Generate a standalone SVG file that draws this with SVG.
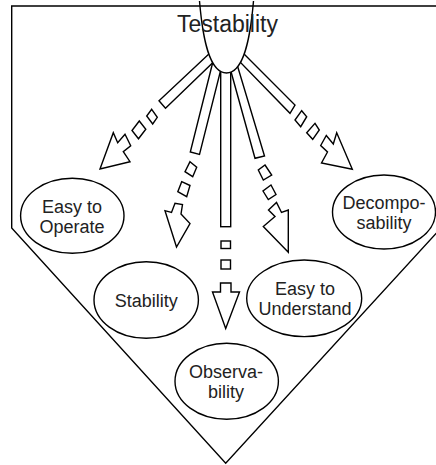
<svg xmlns="http://www.w3.org/2000/svg" width="436" height="465" viewBox="0 0 436 465">
<style>
.s{fill:#fff;stroke:#000;stroke-width:1.4;stroke-linejoin:miter}
.o{fill:none;stroke:#000;stroke-width:1.4}
.t{font-family:"Liberation Sans",Arial,sans-serif;font-size:18px;fill:#222;text-anchor:middle}
.h{font-family:"Liberation Sans",Arial,sans-serif;font-size:23px;fill:#222;text-anchor:middle}
</style>
<rect width="436" height="465" fill="#fff"/>
<g id="connectors">
  <polygon class="s" points="217.4,46 159,100.8 165.5,108.3 220.7,55"/>
  <polygon class="s" points="214.6,55 190.3,152 199.5,154.5 224.5,55"/>
  <rect class="s" x="220.7" y="55" width="10" height="171.7"/>
  <polygon class="s" points="226.4,55 255,158.3 264.5,156 234.2,55"/>
  <polygon class="s" points="233.3,43.3 295,105 290,113.3 230,51.7"/>
  <polygon class="s" points="151.7,109.3 157.3,117.3 152.7,124 146.7,116"/>
  <polygon class="s" points="139.3,121 145.8,129.3 138.5,138.8 132,130.5"/>
  <polygon class="s" points="190,161.7 196.7,167.3 192.7,176.7 185,171.7"/>
  <polygon class="s" points="181.7,181.7 190,185.5 186.7,196.7 177.8,191.7"/>
  <rect class="s" x="221" y="241" width="9.5" height="7.5"/>
  <rect class="s" x="221" y="260" width="9.5" height="9"/>
  <polygon class="s" points="265,165 271.7,175 263.3,180 258.3,170"/>
  <polygon class="s" points="271,185 276,194.5 268.3,199.5 263,191"/>
  <polygon class="s" points="301.7,110.7 306.7,116.7 300.7,126.7 295,120"/>
  <polygon class="s" points="315,123.3 319.3,130 312.7,139.3 306.7,132.7"/>
  <polygon class="s" points="100,169 113.3,132.7 117.7,142.7 125,134.3 130.7,145.7 123.3,151.7 130,161.7"/>
  <polygon class="s" points="176.5,247 165,210.7 171.5,212.5 175,203.3 182.5,204.5 181,214 190,223.5"/>
  <polygon class="s" points="220.5,283 231,283 231,292 239.5,292 225.7,328.5 212.5,292 220.5,292"/>
  <polygon class="s" points="288.3,252.3 263.3,226.5 275,216.5 268.5,210 276.5,202.5 281.5,212.5 288.3,210"/>
  <polygon class="s" points="352.3,169.3 336.7,132.7 333.3,144 326.3,135.5 320.7,145.5 327.5,152 321.5,163"/>
</g>
<g id="testability">
  <path class="s" d="M199.5,1 C203,42 210,73 226.5,73 C243,73 250,42 253.5,1"/>
  <text class="h" x="227.5" y="32">Testability</text>
</g>
<g id="frame">
  <polygon class="o" points="11.7,6 441,6 441,228 225.7,463.3 11.7,228"/>
</g>
<g id="easy-to-operate">
  <ellipse class="s" cx="72.3" cy="215.8" rx="51.7" ry="37.5"/>
  <text class="t" x="72" y="212.5">Easy to</text>
  <text class="t" x="72" y="232.5">Operate</text>
</g>
<g id="decomposability">
  <ellipse class="s" cx="384" cy="212" rx="51.5" ry="37"/>
  <text class="t" x="384" y="208.5">Decompo-</text>
  <text class="t" x="384" y="228.5">sability</text>
</g>
<g id="stability">
  <ellipse class="s" cx="146.2" cy="300" rx="52.2" ry="38.3"/>
  <text class="t" x="146.3" y="306.5">Stability</text>
</g>
<g id="easy-to-understand">
  <ellipse class="s" cx="304.2" cy="298.3" rx="57.5" ry="38.3"/>
  <text class="t" x="305" y="294.8">Easy to</text>
  <text class="t" x="305" y="314.8">Understand</text>
</g>
<g id="observability">
  <ellipse class="s" cx="226.7" cy="381.3" rx="51.7" ry="38"/>
  <text class="t" x="226" y="377.8">Observa-</text>
  <text class="t" x="226" y="397.8">bility</text>
</g>
</svg>
